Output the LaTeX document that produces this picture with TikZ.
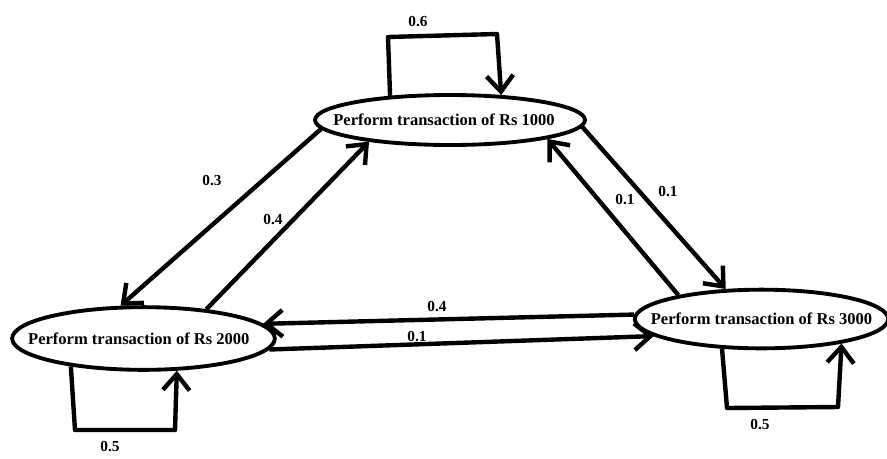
\documentclass[tikz,border=0pt]{standalone}
\usepackage{fontspec}
\setmainfont{Liberation Serif}
\usetikzlibrary{shapes.geometric,arrows.meta}

\tikzset{
  state/.style={ellipse, draw, line width=2.9pt, inner sep=0pt,
    font=\bfseries\fontsize{12.4}{14}\selectfont},
  arr/.style={line width=3.3pt, line join=round,
    -{Straight Barb[length=12pt,width=20pt]}},
  prob/.style={font=\bfseries\fontsize{11.5}{13}\selectfont, inner sep=1pt}
}

\begin{document}
\begin{tikzpicture}[x=0.75pt, y=-0.75pt]
  \useasboundingbox (0,0) rectangle (887,458);

  % the three states
  \node[state, minimum width=202.5pt, minimum height=37.5pt] (n1000) at (450,120)
    {\makebox[0pt]{\hspace*{-9pt}Perform transaction of Rs 1000}};
  \node[state, minimum width=197pt, minimum height=47pt] (n2000) at (143.5,338.5)
    {\makebox[0pt]{\hspace*{-7pt}Perform transaction of Rs 2000}};
  \node[state, minimum width=190pt, minimum height=44pt] (n3000) at (761.5,319)
    {\makebox[0pt]{Perform transaction of Rs 3000}};

  % self loops
  \draw[arr] (n1000.158) -- (388,37) -- (497,34) -- (n1000.26);
  \draw[arr] (n2000.201) -- (75,430) -- (175,430) -- (n2000.316);
  \draw[arr] (n3000.217) -- (727,408) -- (838,407) -- (n3000.343);

  % transitions between states
  \draw[arr] (n1000.184) -- (n2000.125);
  \draw[arr] (n2000.25) -- (n1000.195);
  \draw[arr] (n1000.357) -- (n3000.140);
  \draw[arr] (n3000.164) -- (n1000.349);
  \draw[arr] (n3000.178) -- (n2000.7);
  \draw[arr] (n2000.-5) -- (n3000.189);

  % transition probabilities
  \node[prob] (p11) at (418,22) {0.6};
  \node[prob] (p12) at (212,181) {0.3};
  \node[prob] (p21) at (273,220) {0.4};
  \node[prob] (p13) at (668,192) {0.1};
  \node[prob] (p31) at (625,200) {0.1};
  \node[prob] (p32) at (437,306) {0.4};
  \node[prob] (p23) at (417,336) {0.1};
  \node[prob] (p22) at (110,446) {0.5};
  \node[prob] (p33) at (760,424) {0.5};
\end{tikzpicture}
\end{document}
